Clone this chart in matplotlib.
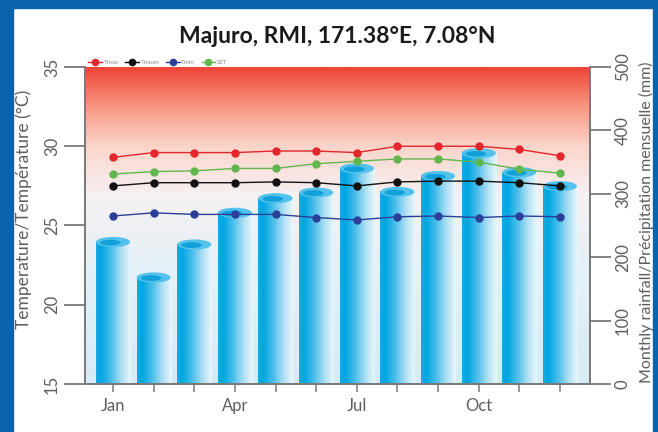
import matplotlib.pyplot as plt
import numpy as np
from matplotlib.patches import Rectangle, Ellipse
from matplotlib.colors import LinearSegmentedColormap

plt.rcParams["font.family"] = ["Lato", "DejaVu Sans"]

# -------- data --------
months = np.arange(1, 13)
month_ticklabels = ["Jan", "", "", "Apr", "", "", "Jul", "", "", "Oct", "", ""]

rainfall = [224, 168, 220, 270, 293, 302, 340, 303, 328, 364, 334, 312]
tmax = [29.3, 29.6, 29.6, 29.6, 29.7, 29.7, 29.6, 30.0, 30.0, 30.0, 29.8, 29.4]
tmean = [27.5, 27.7, 27.7, 27.7, 27.75, 27.7, 27.5, 27.75, 27.8, 27.8, 27.7, 27.5]
tmin = [25.6, 25.8, 25.7, 25.7, 25.7, 25.5, 25.35, 25.55, 25.6, 25.5, 25.6, 25.55]
sst = [28.25, 28.4, 28.45, 28.6, 28.6, 28.9, 29.05, 29.2, 29.2, 29.0, 28.55, 28.3]

grey = "#5e5e5e"
spine_col = "#7a7a7a"

fig = plt.figure(figsize=(6.58, 4.32), dpi=100)
fig.patch.set_facecolor("white")

# blue frame
frame = "#0b63ab"
fig.patches.append(Rectangle((0, 0), 13/658, 1, transform=fig.transFigure, color=frame, zorder=-5))
fig.patches.append(Rectangle((0, 1-8/432), 1, 8/432, transform=fig.transFigure, color=frame, zorder=-5))
fig.patches.append(Rectangle((1-5/658, 0), 5/658, 1, transform=fig.transFigure, color=frame, zorder=-5))

ax = fig.add_axes([85/658, 48/432, 505/658, 317/432])
ax2 = ax.twinx()

# -------- background gradient (on rainfall axis, lowest) --------
bg = LinearSegmentedColormap.from_list("bg", [
    (0.0, "#d6ebf6"), (0.35, "#e4f1f8"), (0.6, "#f6f0f1"),
    (0.75, "#fbd5ca"), (0.88, "#f79580"), (1.0, "#ee4536")])
grad = np.linspace(0, 1, 256).reshape(-1, 1)
ax2.imshow(grad, cmap=bg, origin="lower", extent=[0, 1, 0, 1],
           transform=ax2.transAxes, aspect="auto", zorder=0)

# -------- rainfall bars (cylinders) --------
bar_cmap = LinearSegmentedColormap.from_list("bar", [
    (0.0, "#1aa9df"), (0.15, "#00a6e2"), (0.45, "#4fc0ec"),
    (0.75, "#b2e1f4"), (1.0, "#eaf7fc")])
bars = ax2.bar(months, rainfall, width=0.84, color="none", zorder=2)
hor = np.linspace(0, 1, 128).reshape(1, -1)
for b, r in zip(bars, rainfall):
    x0 = b.get_x()
    w = b.get_width()
    ax2.imshow(hor, cmap=bar_cmap, extent=[x0, x0 + w, 0, r],
               aspect="auto", zorder=2)
    ax2.add_patch(Ellipse((x0 + w/2, r), w, 16, facecolor="#52c2ec",
                          edgecolor="none", zorder=3))
    ax2.add_patch(Ellipse((x0 + w*0.42, r - 1), w*0.6, 9, facecolor="#12a0da",
                          edgecolor="none", zorder=3))

ax2.set_ylim(0, 500)
ax2.set_yticks([0, 100, 200, 300, 400, 500])
ax2.set_ylabel("Monthly rainfall/Précipitation mensuelle (mm)", color=grey,
               fontsize=11.5)
ax2.yaxis.set_label_coords(1.097, 0.51)

# -------- temperature lines --------
ax.set_zorder(ax2.get_zorder() + 1)
ax.patch.set_visible(False)
ms = 5
ax.plot(months, tmax, "-o", color="#e3262b", lw=1, ms=ms, label="Tmax")
ax.plot(months, tmean, "-o", color="#111111", lw=1, ms=ms, label="Tmean")
ax.plot(months, tmin, "-o", color="#2b3f98", lw=1, ms=ms, label="Tmin")
ax.plot(months, sst, "-o", color="#62b64e", lw=1, ms=ms, label="SST")

ax.set_xlim(0.31, 12.74)
ax.set_ylim(15, 35)
ax.set_yticks([15, 20, 25, 30, 35])
ax.set_xticks(months)
ax.set_xticklabels(month_ticklabels)
ax.set_ylabel("Temperature/Température (°C)", color=grey, fontsize=12.5)
ax.yaxis.set_label_coords(-0.104, 0.55)

for a in (ax, ax2):
    for s in a.spines.values():
        s.set_color(spine_col)
        s.set_linewidth(1.3)
    a.spines["top"].set_visible(False)
    a.tick_params(colors=grey, labelsize=12)

ax.tick_params(axis="y", length=15, width=1.3, color=spine_col, pad=3)
ax2.tick_params(axis="y", length=15, width=1.3, color=spine_col, pad=3)
ax.tick_params(axis="x", length=6, width=1.1, color=spine_col, pad=4)
for t in ax.get_yticklabels() + ax2.get_yticklabels():
    t.set_rotation(90)
    t.set_va("center")

ax.set_title("Majuro, RMI, 171.38°E, 7.08°N", fontsize=16.5, fontweight="bold",
             color="#1a1a1a", pad=17)

leg = ax.legend(loc="lower left", bbox_to_anchor=(0.0, 0.995), ncol=4,
                frameon=False, fontsize=4.5, handlelength=2.2, handletextpad=0.3,
                columnspacing=1.0, borderaxespad=0.1, markerscale=0.9)
for t in leg.get_texts():
    t.set_color("#8a8a8a")

plt.savefig("out.png", dpi=100)
plt.close()
